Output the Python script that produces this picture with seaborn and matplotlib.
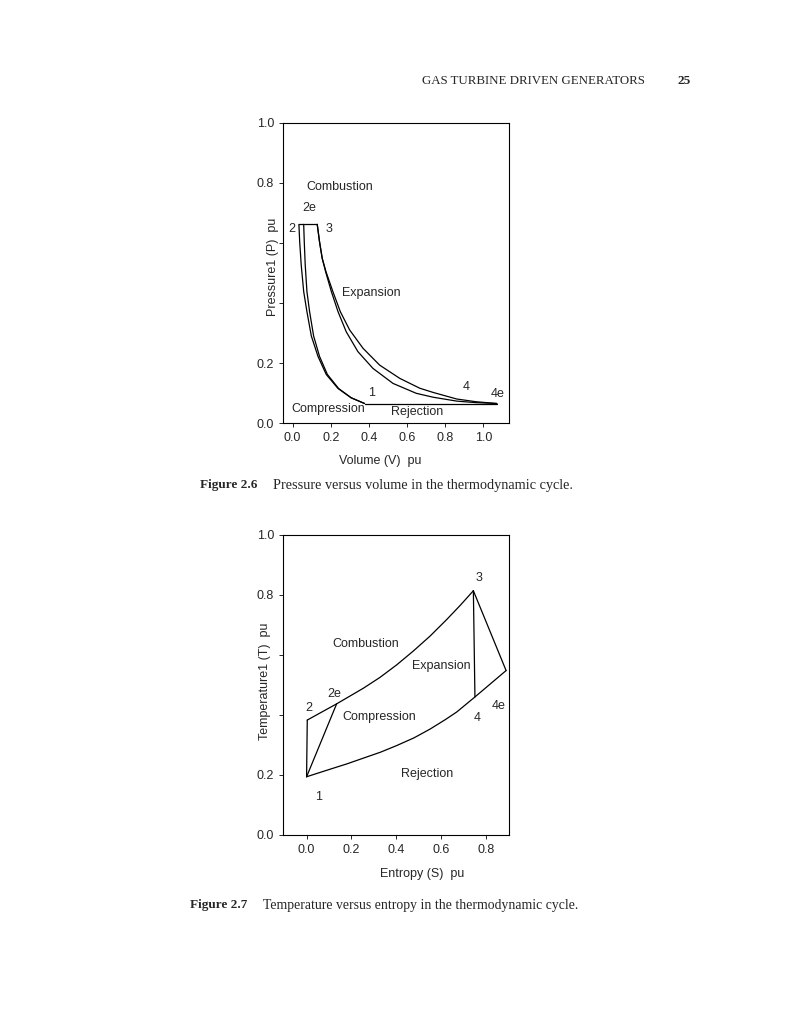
import matplotlib
matplotlib.use('Agg')
import matplotlib.pyplot as plt
import seaborn as sns
import pandas as pd

sns.set_style('ticks')
plt.rcParams['font.family'] = ['Liberation Sans', 'DejaVu Sans']

# Figure 2.6 - pressure versus volume
comp_outer_v = [0.033, 0.037, 0.045, 0.058, 0.075, 0.098, 0.133, 0.176, 0.238, 0.307, 0.377]
comp_outer_p = [0.662, 0.604, 0.527, 0.438, 0.371, 0.290, 0.222, 0.162, 0.115, 0.084, 0.065]
comp_inner_v = [0.058, 0.061, 0.066, 0.075, 0.089, 0.110, 0.141, 0.182, 0.241, 0.307, 0.377]
comp_inner_p = [0.662, 0.604, 0.527, 0.438, 0.371, 0.290, 0.222, 0.162, 0.115, 0.084, 0.065]
comb_v = [0.033, 0.129]
comb_p = [0.662, 0.662]
exp_inner_v = [0.129, 0.141, 0.155, 0.173, 0.203, 0.238, 0.281, 0.342, 0.421, 0.526, 0.648, 0.736, 0.860, 0.960, 1.070]
exp_inner_p = [0.662, 0.604, 0.549, 0.504, 0.438, 0.371, 0.304, 0.238, 0.182, 0.132, 0.099, 0.086, 0.073, 0.068, 0.065]
exp_outer_v = [0.129, 0.141, 0.155, 0.175, 0.211, 0.250, 0.299, 0.369, 0.456, 0.561, 0.666, 0.736, 0.860, 0.960, 1.070]
exp_outer_p = [0.662, 0.604, 0.549, 0.504, 0.438, 0.371, 0.310, 0.249, 0.193, 0.149, 0.116, 0.102, 0.080, 0.071, 0.065]
rej_v = [0.377, 1.070]
rej_p = [0.065, 0.065]

# Figure 2.7 - temperature versus entropy
upper_s = [0.003, 0.134, 0.253, 0.327, 0.402, 0.476, 0.551, 0.625, 0.685, 0.744]
upper_t = [0.383, 0.437, 0.489, 0.525, 0.567, 0.613, 0.663, 0.718, 0.765, 0.814]
lower_s = [0.000, 0.104, 0.180, 0.253, 0.330, 0.402, 0.480, 0.551, 0.620, 0.670, 0.751, 0.890]
lower_t = [0.194, 0.219, 0.237, 0.256, 0.276, 0.298, 0.324, 0.353, 0.385, 0.410, 0.460, 0.548]
c12_s = [0.000, 0.003]
c12_t = [0.194, 0.383]
c12e_s = [0.000, 0.134]
c12e_t = [0.194, 0.437]
e34_s = [0.744, 0.751]
e34_t = [0.814, 0.460]
e34e_s = [0.744, 0.890]
e34e_t = [0.814, 0.548]

ticks_y = [0.0, 0.2, 0.4, 0.6, 0.8, 1.0]
ticklabels_y = ['0.0', '0.2', '', '', '0.8', '1.0']
ticks_x_pv = [0.0, 0.2, 0.4, 0.6, 0.8, 1.0]
ticks_x_ts = [0.0, 0.2, 0.4, 0.6, 0.8]

pv_labels = [('Combustion', 0.245, 0.786), ('2e', 0.087, 0.716), ('2', -0.005, 0.647),
             ('3', 0.192, 0.647), ('Expansion', 0.411, 0.434), ('1', 0.414, 0.099),
             ('4', 0.909, 0.121), ('4e', 1.073, 0.097), ('Compression', 0.187, 0.047),
             ('Rejection', 0.655, 0.038)]
ts_labels = [('3', 0.771, 0.856), ('Combustion', 0.265, 0.637), ('Expansion', 0.600, 0.564),
             ('2e', 0.122, 0.470), ('2', 0.011, 0.422), ('Compression', 0.322, 0.393),
             ('4e', 0.856, 0.429), ('4', 0.759, 0.390), ('Rejection', 0.537, 0.204),
             ('1', 0.055, 0.128)]

fig = plt.figure(figsize=(7.86, 10.24), dpi=100)
fs = 9


def draw(ax, series, labels):
    for xs, ys in series:
        df = pd.DataFrame({'x': xs, 'y': ys})
        sns.lineplot(data=df, x='x', y='y', ax=ax, sort=False, color='black',
                     linewidth=0.9, estimator=None)
    for txt, x, y in labels:
        ax.text(x, y, txt, ha='center', va='center', fontsize=fs)
    ax.set_ylim(0, 1)
    ax.set_yticks(ticks_y)
    ax.set_yticklabels(ticklabels_y)
    for sp in ax.spines.values():
        sp.set_visible(True)
        sp.set_linewidth(0.8)
        sp.set_color('black')
    ax.tick_params(direction='out', length=3, width=0.7, labelsize=fs, pad=3.5)


# top chart
ax1 = fig.add_axes([0.3604, 0.5869, 0.2872, 0.2930])
draw(ax1, [(comp_outer_v, comp_outer_p), (comp_inner_v, comp_inner_p), (comb_v, comb_p),
           (exp_inner_v, exp_inner_p), (exp_outer_v, exp_outer_p), (rej_v, rej_p)], pv_labels)
ax1.set_xlim(-0.049, 1.134)
ax1.set_xticks(ticks_x_pv)
ax1.set_xticklabels(['%.1f' % t for t in ticks_x_pv])
ax1.set_xlabel('Volume (V)  pu', fontsize=fs)
ax1.set_ylabel('Pressure1 (P)  pu', fontsize=fs)
ax1.xaxis.set_label_coords(0.428, -0.105)
ax1.yaxis.set_label_coords(-0.019, 0.52)

# bottom chart
ax2 = fig.add_axes([0.3604, 0.1846, 0.2872, 0.2930])
draw(ax2, [(upper_s, upper_t), (lower_s, lower_t), (c12_s, c12_t), (c12e_s, c12e_t),
           (e34_s, e34_t), (e34e_s, e34e_t)], ts_labels)
ax2.set_xlim(-0.104, 0.903)
ax2.set_xticks(ticks_x_ts)
ax2.set_xticklabels(['%.1f' % t for t in ticks_x_ts])
ax2.set_xlabel('Entropy (S)  pu', fontsize=fs)
ax2.set_ylabel('Temperature1 (T)  pu', fontsize=fs)
ax2.xaxis.set_label_coords(0.613, -0.110)
ax2.yaxis.set_label_coords(-0.053, 0.511)

# page header and captions
serif = ['Liberation Serif', 'DejaVu Serif']
fig.text(421.7 / 786, 1 - 80.7 / 1024, 'GAS TURBINE DRIVEN GENERATORS', family=serif,
         fontsize=9.3, ha='left', va='center')
fig.text(691 / 786, 1 - 80.7 / 1024, '25', family=serif, fontsize=9.5,
         fontweight='bold', ha='right', va='center')
fig.text(200 / 786, 1 - 485 / 1024, 'Figure 2.6', family=serif, fontsize=9.5,
         fontweight='bold', ha='left', va='center')
fig.text(273.3 / 786, 1 - 485 / 1024, 'Pressure versus volume in the thermodynamic cycle.',
         family=serif, fontsize=10.3, ha='left', va='center')
fig.text(190 / 786, 1 - 905 / 1024, 'Figure 2.7', family=serif, fontsize=9.5,
         fontweight='bold', ha='left', va='center')
fig.text(263.3 / 786, 1 - 905 / 1024, 'Temperature versus entropy in the thermodynamic cycle.',
         family=serif, fontsize=9.9, ha='left', va='center')

fig.savefig('out.png', dpi=100, facecolor='white')
